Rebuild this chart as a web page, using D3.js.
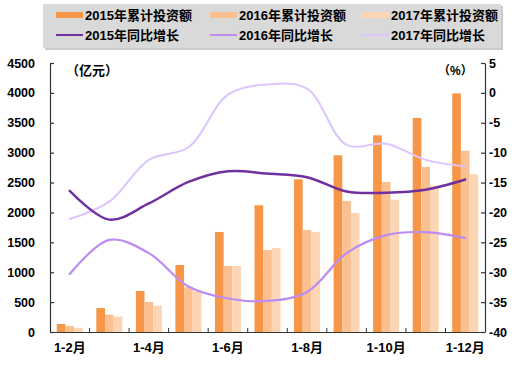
<!DOCTYPE html>
<html>
<head>
<meta charset="utf-8">
<script src="https://cdn.jsdelivr.net/npm/d3@7"></script>
<style>
  body { margin: 0; background: #fff; }
  svg { display: block; }
  text { font-family: Arial, "Liberation Sans", "Noto Sans CJK SC", sans-serif; font-weight: bold; fill: #000; }
</style>
</head>
<body>
<svg id="chart" width="520" height="365"></svg>
<script>
const categories = ["1-2月","1-3月","1-4月","1-5月","1-6月","1-7月","1-8月","1-9月","1-10月","1-11月","1-12月"];
const barSeries = ["2015年累计投资额","2016年累计投资额","2017年累计投资额"];
const lineSeries = ["2015年同比增长","2016年同比增长","2017年同比增长"];
const invest2015 = [134, 400, 686, 1121, 1673, 2120, 2555, 2956, 3290, 3580, 3993];
const invest2016 = [100, 290, 502, 748, 1104, 1372, 1706, 2191, 2509, 2760, 3033];
const invest2017 = [70, 256, 440, 680, 1104, 1405, 1673, 1991, 2213, 2450, 2638];
const growth2015 = [-16.4, -21.2, -18.5, -14.9, -13.1, -13.5, -14.1, -16.5, -16.7, -16.2, -14.5];
const growth2016 = [-30.3, -24.6, -26.8, -32.4, -34.4, -34.8, -33.3, -26.8, -23.8, -23.3, -24.3];
const growth2017 = [-21.1, -18.2, -11.2, -9.1, -0.3, 1.4, 0.7, -8.7, -8.5, -11.2, -12.3];
const leftTicks = [0,500,1000,1500,2000,2500,3000,3500,4000,4500];
const rightTicks = [5,0,-5,-10,-15,-20,-25,-30,-35,-40];
const xLabelCats = ["1-2月","1-4月","1-6月","1-8月","1-10月","1-12月"];

const barColors = ["#F79646","#FAC090","#FCD5B5"];
const lineColors = ["#7030A0","#BC8CF2","#DCC4FF"];
const lineWidths = [2.5, 2.2, 2];

const svg = d3.select("#chart");
const L = 50, R = 485, T = 63, B = 332;

const x = d3.scaleBand().domain(categories).range([L, R]).padding(0);
const groupW = 26;
const xb = d3.scaleBand().domain(barSeries).range([0, groupW]).padding(0);
const yL = d3.scaleLinear().domain([0, 4500]).range([B, T]);
const yR = d3.scaleLinear().domain([-40, 5]).range([B, T]);

const barData = [invest2015, invest2016, invest2017];
const lineData = [growth2015, growth2016, growth2017];

// bars
barSeries.forEach((s, si) => {
  svg.append("g").selectAll("rect")
    .data(categories.map((c, i) => ({c, v: barData[si][i]})))
    .join("rect")
    .attr("x", d => x(d.c) + (x.bandwidth() - groupW) / 2 + xb(s))
    .attr("y", d => yL(d.v))
    .attr("width", xb.bandwidth())
    .attr("height", d => B - yL(d.v))
    .attr("fill", barColors[si]);
});

// lines
const line = d3.line()
  .x((d, i) => x(categories[i]) + x.bandwidth() / 2)
  .y(d => yR(d))
  .curve(d3.curveCatmullRom.alpha(0.5));
[2, 1, 0].forEach(si => {
  svg.append("path")
    .attr("d", line(lineData[si]))
    .attr("fill", "none")
    .attr("stroke", lineColors[si])
    .attr("stroke-width", lineWidths[si])
    .attr("stroke-linecap", "round");
});

const plain = d => String(d);
// left axis
const axL = svg.append("g").attr("transform", `translate(${L},0)`)
  .call(d3.axisLeft(yL).tickValues(leftTicks).tickFormat(plain).tickSizeInner(-4).tickSizeOuter(0).tickPadding(15));
axL.selectAll("text").style("font-size", "12.5px");
// right axis
const axR = svg.append("g").attr("transform", `translate(${R},0)`)
  .call(d3.axisRight(yR).tickValues(rightTicks).tickFormat(plain).tickSizeInner(-4).tickSizeOuter(0).tickPadding(4));
axR.selectAll("text").style("font-size", "12.5px");
// bottom axis
const axB = svg.append("g").attr("transform", `translate(0,${B})`)
  .call(d3.axisBottom(x).tickValues(xLabelCats).tickSize(0).tickPadding(11));
axB.selectAll("text").style("font-size", "13px");
axB.select(".domain").attr("d", `M${L},0.5H${R}`);
// boundary ticks
svg.append("g").selectAll("line")
  .data(categories.slice(1))
  .join("line")
  .attr("x1", d => x(d)).attr("x2", d => x(d))
  .attr("y1", B).attr("y2", B - 4)
  .attr("stroke", "#333");

svg.selectAll(".domain, .tick line").attr("stroke", "#333").attr("stroke-width", 1.2);

// unit labels
svg.append("text").attr("x", 66).attr("y", 75).style("font-size", "13px").text("（亿元）");
svg.append("text").attr("x", 438).attr("y", 75).style("font-size", "12px").text("（%）");

// legend
const lg = svg.append("g");
lg.append("rect").attr("x", 45).attr("y", 6).attr("width", 458).attr("height", 44).attr("fill", "#a6a6a6").attr("opacity", 0.6);
lg.append("rect").attr("x", 43).attr("y", 4).attr("width", 458).attr("height", 44).attr("fill", "#d9d9d9");
const colX = [56, 210, 362];
barSeries.forEach((s, i) => {
  lg.append("rect").attr("x", colX[i]).attr("y", 12).attr("width", 27).attr("height", 6).attr("fill", barColors[i]);
  lg.append("text").attr("x", colX[i] + 29).attr("y", 20).style("font-size", "13px").text(s);
});
lineSeries.forEach((s, i) => {
  lg.append("line").attr("x1", colX[i]).attr("x2", colX[i] + 27).attr("y1", 35).attr("y2", 35)
    .attr("stroke", lineColors[i]).attr("stroke-width", 2);
  lg.append("text").attr("x", colX[i] + 29).attr("y", 40).style("font-size", "13px").text(s);
});
</script>
</body>
</html>
